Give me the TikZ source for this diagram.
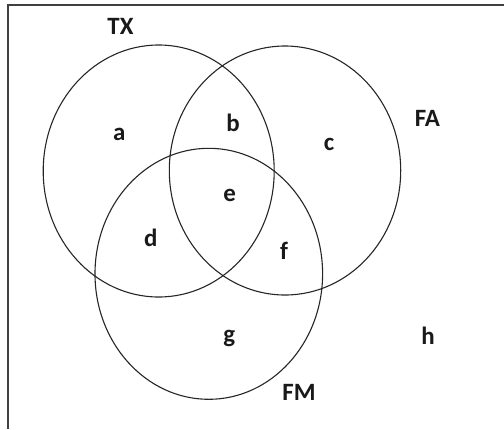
\documentclass[tikz,border=0pt]{standalone}
\usepackage{fontspec}
\setmainfont{Carlito}
\usetikzlibrary{shapes.geometric}
\begin{document}
\begin{tikzpicture}[x=1bp,y=-1bp,
  setring/.style={draw=black!85,line width=1.1bp,ellipse,inner sep=0pt},
  lab/.style={font=\fontsize{25}{28}\selectfont\bfseries,text=black!90,inner sep=0pt,anchor=base},
  frame/.style={draw=black!75,line width=2bp}]
\useasboundingbox (0,0) rectangle (504,429);
\fill[white] (0,0) rectangle (504,429);
\coordinate (ftr) at (504,5);
\coordinate (ftl) at (8,5);
\coordinate (fbl) at (8,429);
\draw[frame] (ftr) -- (ftl) -- (fbl);
\node[setring,minimum width=231bp,minimum height=252bp] (tx) at (158.7,171) {};
\node[setring,minimum width=231.4bp,minimum height=249bp] (fa) at (285,170.5) {};
\node[setring,minimum width=227.6bp,minimum height=251bp] (fm) at (208.8,273.8) {};
\node[lab] (ltx) at (120.5,34) {TX};
\node[lab] (lfa) at (427.5,126) {FA};
\node[lab] (lfm) at (299,400) {FM};
\node[lab] (a) at (119.3,140) {a};
\node[lab] (b) at (233,131.7) {b};
\node[lab] (c) at (329,150) {c};
\node[lab] (d) at (150.7,246.7) {d};
\node[lab] (e) at (229.7,201.7) {e};
\node[lab] (f) at (284,259.5) {f};
\node[lab] (g) at (229.3,342.5) {g};
\node[lab] (h) at (428,344) {h};
\end{tikzpicture}
\end{document}
